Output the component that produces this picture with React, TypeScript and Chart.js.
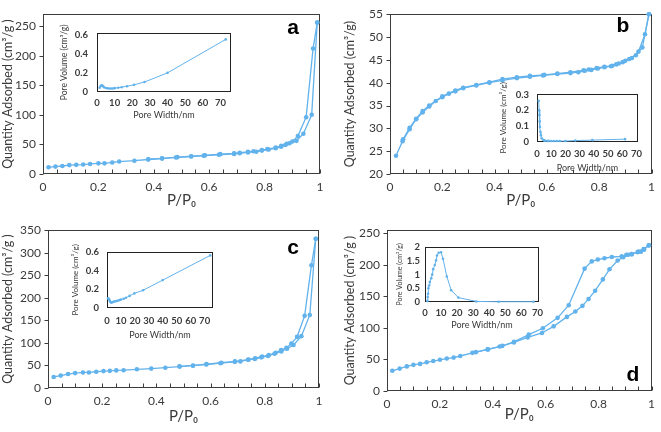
import React, { useEffect, useRef } from "react";
import { Chart, registerables } from "chart.js";
Chart.register(...registerables);

const LINE = "#62b2ec";
const FONT = "Lato, 'Liberation Sans', sans-serif";

// ---- Panel a (isotherm) ----
const aAdsX = [0.02, 0.045, 0.07, 0.095, 0.12, 0.145, 0.17, 0.2, 0.222, 0.25, 0.275, 0.33, 0.38, 0.43, 0.48, 0.535, 0.58, 0.635, 0.69, 0.71, 0.74, 0.77, 0.79, 0.815, 0.84, 0.86, 0.875, 0.89, 0.915, 0.94, 0.97, 0.99];
const aAdsY = [11.5, 12.5, 13.5, 15, 15.5, 16, 17, 18, 18, 19.5, 21, 22.5, 24.5, 26, 28, 29.5, 31, 32.5, 34, 35, 36.5, 37.5, 39.5, 41.5, 43.5, 46, 49, 52, 56, 68, 100, 256];
const aDesX = [0.99, 0.975, 0.95, 0.92, 0.9, 0.88, 0.86, 0.84, 0.81, 0.79, 0.76, 0.74, 0.71, 0.69, 0.64, 0.585, 0.535, 0.485, 0.43, 0.38];
const aDesY = [256, 212, 96, 64, 55, 51, 47.5, 44.5, 42, 40.5, 38.5, 37.5, 36, 35, 33.5, 31.5, 30, 28.5, 26.5, 25];
// inset a (pore size distribution)
const iaX = [1.5, 2, 2.5, 3, 3.5, 4, 5, 6, 7, 8, 9, 10, 12, 14, 17, 21, 27, 40, 73];
const iaY = [0.045, 0.06, 0.07, 0.068, 0.06, 0.05, 0.042, 0.038, 0.036, 0.036, 0.037, 0.04, 0.045, 0.05, 0.06, 0.075, 0.105, 0.2, 0.55];

// ---- Panel b ----
const bAdsX = [0.023, 0.048, 0.075, 0.1, 0.125, 0.15, 0.175, 0.2, 0.225, 0.25, 0.28, 0.33, 0.38, 0.43, 0.485, 0.535, 0.585, 0.64, 0.69, 0.72, 0.745, 0.77, 0.795, 0.82, 0.845, 0.865, 0.89, 0.915, 0.94, 0.965, 0.99];
const bAdsY = [24, 27.2, 29.8, 32, 33.5, 34.8, 36, 36.8, 37.6, 38.1, 38.8, 39.4, 40, 40.5, 41, 41.3, 41.6, 41.9, 42.1, 42.3, 42.6, 42.8, 43.1, 43.4, 43.6, 44, 44.5, 45.2, 46, 47.7, 55];
const bDesX = [0.99, 0.975, 0.95, 0.925, 0.9, 0.875, 0.85, 0.82, 0.79, 0.76, 0.74, 0.69, 0.64, 0.59, 0.535, 0.485, 0.43, 0.38, 0.33, 0.28, 0.25, 0.2, 0.15, 0.125, 0.1, 0.075, 0.05];
const bDesY = [55, 50.6, 46.8, 45.4, 44.8, 44.2, 43.7, 43.5, 43.2, 42.9, 42.7, 42.3, 42, 41.7, 41.5, 41.2, 40.8, 40.1, 39.5, 38.9, 38.3, 37, 35, 33.8, 32.1, 30.1, 27.6];
const ibX = [1.2, 1.5, 1.7, 1.9, 2.1, 2.3, 2.7, 3.3, 4.2, 5, 6, 8, 10, 12, 14, 16, 20, 27, 39, 62];
const ibY = [0.26, 0.2, 0.17, 0.13, 0.095, 0.065, 0.042, 0.024, 0.014, 0.01, 0.008, 0.007, 0.006, 0.006, 0.006, 0.006, 0.006, 0.009, 0.012, 0.018];

// ---- Panel c ----
const cAdsX = [0.021, 0.047, 0.074, 0.1, 0.129, 0.151, 0.178, 0.205, 0.228, 0.252, 0.279, 0.328, 0.381, 0.433, 0.486, 0.535, 0.584, 0.636, 0.689, 0.71, 0.738, 0.763, 0.787, 0.812, 0.836, 0.861, 0.882, 0.906, 0.935, 0.966, 0.988];
const cAdsY = [24.5, 27.5, 31, 33, 34.5, 34.5, 36, 37.5, 38, 39, 39.5, 41.5, 43, 45, 47.5, 49.5, 52, 55, 58, 59, 62.5, 64.5, 68, 71, 76, 81, 87, 95.5, 115, 162, 331];
const cDesX = [0.988, 0.972, 0.947, 0.919, 0.898, 0.88, 0.86, 0.84, 0.815, 0.79, 0.765, 0.74, 0.69, 0.64, 0.585, 0.535, 0.485];
const cDesY = [331, 272, 160, 113.5, 98.5, 89, 84, 78, 73, 69.5, 66, 63, 59, 56, 53, 50, 48];
const icX = [0.8, 1.2, 1.6, 2, 2.5, 3, 3.5, 4, 5, 6, 7, 8, 9, 10, 12, 13.6, 16.2, 19.6, 25.8, 40, 74];
const icY = [0.105, 0.1, 0.09, 0.075, 0.065, 0.058, 0.06, 0.065, 0.068, 0.072, 0.076, 0.08, 0.085, 0.09, 0.1, 0.11, 0.13, 0.157, 0.19, 0.3, 0.565];

// ---- Panel d ----
const dAdsX = [0.02, 0.048, 0.075, 0.1, 0.125, 0.15, 0.175, 0.2, 0.226, 0.252, 0.277, 0.323, 0.382, 0.426, 0.48, 0.532, 0.586, 0.63, 0.68, 0.712, 0.739, 0.762, 0.787, 0.816, 0.841, 0.872, 0.893, 0.912, 0.925, 0.947, 0.96, 0.972, 0.99];
const dAdsY = [32, 35.5, 39, 41.5, 43, 45.5, 47.5, 49.5, 51.5, 53, 55.5, 60.5, 66, 70.5, 77, 85, 92, 102.5, 117.5, 126, 135, 146, 159, 177, 193, 207, 212, 216, 217, 220, 221, 224, 231];
const dDesX = [0.99, 0.97, 0.95, 0.925, 0.905, 0.887, 0.85, 0.822, 0.797, 0.774, 0.747, 0.687, 0.645, 0.589, 0.536, 0.48, 0.436, 0.38, 0.336];
const dDesY = [231, 225, 221, 217, 216, 213.5, 212.5, 210.5, 208.5, 205.5, 194, 136, 116, 99.5, 89.5, 78, 71.5, 66, 61.6];
const idX = [1.5, 1.7, 1.9, 2.1, 2.5, 3, 3.9, 4.5, 5.1, 6.1, 6.9, 7.5, 8.5, 10, 11.2, 13.6, 16.3, 20.8, 32, 45.8, 67.6];
const idY = [0.04, 0.18, 0.3, 0.5, 0.6, 0.73, 0.87, 1.0, 1.2, 1.35, 1.52, 1.7, 1.8, 1.82, 1.58, 0.93, 0.43, 0.16, 0.02, 0.01, 0.01];

// axis labels
const MAIN_X_TITLE = "P/P\u2080";
const Y_TITLE_A = "Quantity Adsorbed (cm\u00b3/g )";
const Y_TITLE_B = "Quantity Adsorbed (cm\u00b3/g)";
const INSET_X_TITLE = "Pore Width/nm";
const INSET_Y_TITLE = "Pore Volume (cm\u00b3/g)";

type Spec = {
  box: number[]; // left, top, width, height
  area: number[]; // left, top, right, bottom
  x: [number, number, number];
  y: [number, number, number];
  series: [number[], number[]][];
  xTitle: string;
  yTitle: string;
  tickSize: number;
  tickBold?: boolean;
  xTitleSize: number;
  yTitleSize: number;
  yTitleCenter: number; // absolute x
  xTitleCenter: number; // absolute y
  xTickPad: number;
  yTickPad: number;
  pointR: number;
  lineW: number;
  frameColor: string;
  yTickLen: number;
  xMinor: number; // 0 = none
  letter?: { text: string; x: number; y: number };
};

const fmt = (v: number) => {
  const r = Math.round(v * 100) / 100;
  return String(r);
};

function makeFrame(s: Spec) {
  return {
    id: "frame",
    beforeDatasetsDraw(chart: any) {
      const { ctx, chartArea: a, scales } = chart;
      ctx.save();
      ctx.strokeStyle = s.frameColor;
      ctx.lineWidth = 1;
      const L = Math.round(a.left) + 0.5;
      const T = Math.round(a.top) + 0.5;
      const R = Math.round(a.right) - 0.5;
      const B = Math.round(a.bottom) - 0.5;
      ctx.strokeRect(L, T, R - L, B - T);
      ctx.beginPath();
      if (s.yTickLen > 0) {
        scales.y.ticks.forEach((t: any) => {
          const py = Math.round(scales.y.getPixelForValue(t.value)) + 0.5;
          ctx.moveTo(L - s.yTickLen, py);
          ctx.lineTo(L, py);
        });
      }
      if (s.xMinor > 0) {
        const n = Math.round((s.x[1] - s.x[0]) / s.xMinor);
        for (let i = 0; i <= n; i++) {
          const v = s.x[0] + i * s.xMinor;
          const px = Math.round(scales.x.getPixelForValue(v)) + 0.5;
          ctx.moveTo(px, B);
          ctx.lineTo(px, B - 4);
        }
      }
      ctx.stroke();
      ctx.restore();
    },
    afterDraw(chart: any) {
      if (!s.letter) return;
      const { ctx } = chart;
      ctx.save();
      ctx.fillStyle = "#000";
      ctx.font = "bold 21px 'Liberation Sans', Arial, sans-serif";
      ctx.textAlign = "center";
      ctx.textBaseline = "middle";
      ctx.fillText(s.letter.text, s.letter.x - s.box[0], s.letter.y - s.box[1]);
      ctx.restore();
    },
  };
}

function Panel({ s }: { s: Spec }) {
  const ref = useRef<HTMLCanvasElement>(null);
  const [bl, bt, bw, bh] = s.box;
  useEffect(() => {
    const yw = s.area[0] - bl;
    const xh = bt + bh - s.area[3];
    const yLH = s.yTitleSize * 1.2;
    const xLH = s.xTitleSize * 1.2;
    const tickFont = { family: FONT, size: s.tickSize, weight: s.tickBold ? "bold" : "normal" } as any;
    const chart = new Chart(ref.current as HTMLCanvasElement, {
      type: "scatter",
      data: {
        datasets: s.series.map(([xs, ys]) => ({
          data: xs.map((x, i) => ({ x, y: ys[i] })),
          showLine: true,
          borderColor: LINE,
          backgroundColor: LINE,
          pointBackgroundColor: LINE,
          pointBorderWidth: 0,
          pointRadius: s.pointR,
          borderWidth: s.lineW,
          tension: 0,
          clip: false,
        })),
      },
      options: {
        animation: false,
        responsive: false,
        maintainAspectRatio: false,
        layout: {
          padding: { left: 0, top: s.area[1] - bt, right: bl + bw - s.area[2], bottom: 0 },
        },
        plugins: { legend: { display: false }, tooltip: { enabled: false } },
        scales: {
          x: {
            type: "linear",
            min: s.x[0],
            max: s.x[1],
            afterFit: (sc: any) => {
              sc.height = xh;
            },
            grid: { display: false, drawTicks: false },
            border: { display: false },
            ticks: {
              stepSize: s.x[2],
              includeBounds: false,
              autoSkip: false,
              maxRotation: 0,
              padding: s.xTickPad,
              color: "#3a3a3a",
              font: tickFont,
              callback: (v: any) => fmt(Number(v)),
            },
            title: {
              display: true,
              text: s.xTitle,
              color: "#3a3a3a",
              font: { family: FONT, size: s.xTitleSize },
              padding: { top: 0, bottom: bt + bh - s.xTitleCenter - xLH / 2 },
            },
          },
          y: {
            type: "linear",
            min: s.y[0],
            max: s.y[1],
            afterFit: (sc: any) => {
              sc.width = yw;
            },
            grid: { display: false, drawTicks: false },
            border: { display: false },
            ticks: {
              stepSize: s.y[2],
              includeBounds: false,
              autoSkip: false,
              padding: s.yTickPad,
              color: "#3a3a3a",
              font: tickFont,
              callback: (v: any) => fmt(Number(v)),
            },
            title: {
              display: true,
              text: s.yTitle,
              color: "#3a3a3a",
              font: { family: FONT, size: s.yTitleSize },
              padding: { top: s.yTitleCenter - bl - yLH / 2, bottom: 0 },
            },
          },
        },
      } as any,
      plugins: [makeFrame(s)],
    });
    return () => chart.destroy();
  }, []);
  return (
    <canvas
      ref={ref}
      width={bw}
      height={bh}
      style={{ position: "absolute", left: bl, top: bt, width: bw, height: bh }}
    />
  );
}

const mainCommon = {
  xTitle: MAIN_X_TITLE,
  tickSize: 12,
  xTitleSize: 15,
  yTitleSize: 12.5,
  xTickPad: 6,
  yTickPad: 7,
  pointR: 2.3,
  lineW: 1.3,
  frameColor: "#3c3c3c",
  yTickLen: 4,
  xMinor: 0.05,
};

const insetCommon = {
  xTitle: INSET_X_TITLE,
  yTitle: INSET_Y_TITLE,
  tickSize: 9.5,
  tickBold: true,
  xTitleSize: 9,
  pointR: 1.3,
  lineW: 1,
  frameColor: "#222",
  yTickLen: 0,
  xMinor: 0,
};

const specs: Spec[] = [
  {
    ...mainCommon,
    box: [0, 0, 330, 216],
    area: [43, 4, 320, 174],
    x: [0, 1, 0.2],
    y: [0, 270, 50],
    series: [[aAdsX, aAdsY], [aDesX, aDesY]],
    yTitle: Y_TITLE_A,
    yTitleCenter: 8,
    xTitleCenter: 200,
    letter: { text: "a", x: 293, y: 28 },
  },
  {
    ...mainCommon,
    box: [330, 0, 331, 216],
    area: [390, 5, 655, 174],
    x: [0, 1, 0.2],
    y: [20, 55, 5],
    series: [[bAdsX, bAdsY], [bDesX, bDesY]],
    yTitle: Y_TITLE_B,
    yTitleCenter: 350,
    xTitleCenter: 200,
    letter: { text: "b", x: 623, y: 26 },
  },
  {
    ...mainCommon,
    box: [0, 216, 330, 216],
    area: [48, 225, 319, 388],
    x: [0, 1, 0.2],
    y: [0, 350, 50],
    series: [[cAdsX, cAdsY], [cDesX, cDesY]],
    yTitle: Y_TITLE_A,
    yTitleCenter: 8,
    xTitleCenter: 416,
    letter: { text: "c", x: 293, y: 248 },
  },
  {
    ...mainCommon,
    box: [330, 216, 331, 216],
    area: [387, 223, 653, 391],
    x: [0, 1, 0.2],
    y: [0, 255, 50],
    series: [[dAdsX, dAdsY], [dDesX, dDesY]],
    yTitle: Y_TITLE_A,
    yTitleCenter: 350,
    xTitleCenter: 414,
    letter: { text: "d", x: 633, y: 375 },
  },
  {
    ...insetCommon,
    box: [56, 18, 180, 104],
    area: [97, 21, 231, 92],
    x: [0, 76, 10],
    y: [0, 0.62, 0.2],
    series: [[iaX, iaY]],
    yTitleSize: 8.5,
    yTitleCenter: 64,
    xTitleCenter: 115,
    xTickPad: 5,
    yTickPad: 9,
  },
  {
    ...insetCommon,
    box: [494, 80, 154, 96],
    area: [537, 84, 642, 142],
    x: [0, 71, 10],
    y: [0, 0.305, 0.1],
    series: [[ibX, ibY]],
    yTitleSize: 8,
    yTitleCenter: 503,
    xTitleCenter: 168,
    xTickPad: 6,
    yTickPad: 8,
  },
  {
    ...insetCommon,
    box: [66, 238, 152, 104],
    area: [107, 242, 213, 308],
    x: [0, 76, 10],
    y: [0, 0.605, 0.2],
    series: [[icX, icY]],
    yTitleSize: 8,
    yTitleCenter: 75,
    xTitleCenter: 335,
    xTickPad: 7,
    yTickPad: 8,
  },
  {
    ...insetCommon,
    box: [392, 236, 156, 96],
    area: [425, 241, 542, 302],
    x: [0, 71, 10],
    y: [0, 2.02, 0.5],
    series: [[idX, idY]],
    yTitleSize: 7,
    yTitleCenter: 400,
    xTitleCenter: 325,
    xTickPad: 5,
    yTickPad: 5,
  },
];

export default function App() {
  return (
    <div
      style={{
        position: "absolute",
        left: 0,
        top: 0,
        width: 661,
        height: 432,
        background: "#fff",
        overflow: "hidden",
      }}
    >
      {specs.map((s, i) => (
        <Panel key={i} s={s} />
      ))}
    </div>
  );
}
